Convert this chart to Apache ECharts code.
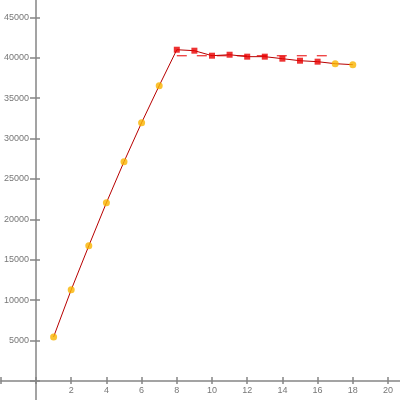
<!DOCTYPE html>
<html>
<head>
<meta charset="utf-8">
<script src="https://cdn.jsdelivr.net/npm/echarts@6/dist/echarts.min.js"></script>
<style>
  html, body { margin: 0; padding: 0; background: #fff; }
  #chart { width: 400px; height: 400px; }
</style>
</head>
<body>
<div id="chart"></div>
<script>
// x positions and values
const xs = [1, 2, 3, 4, 5, 6, 7, 8, 9, 10, 11, 12, 13, 14, 15, 16, 17, 18];
const values = [5460, 11280, 16730, 22060, 27140, 31970, 36550, 41000, 40880,
  40260, 40380, 40140, 40140, 39890, 39640, 39520, 39270, 39150];
// points drawn as red squares (the rest are yellow dots)
const redFrom = 8;
const redTo = 16;
// dashed level line
const levelValue = 40250;
const levelFrom = 8;
const levelTo = 17;

const lineColor = "#b80000";
const dotColor = "#f9b400";
const squareColor = "#e80000";
const axisColor = "#858585";
const labelColor = "#777";

const allPoints = xs.map((x, i) => [x, values[i]]);
const dots = allPoints.filter(p => p[0] < redFrom || p[0] > redTo);
const squares = allPoints.filter(p => p[0] >= redFrom && p[0] <= redTo);

const tickStyle = { color: axisColor, width: 1.5 };
const labelFont = { color: labelColor, fontSize: 9, fontFamily: "Liberation Sans" };

// grid 0: data, labels and y ticks (its left/bottom edges sit on x=0 / y=0)
// grid 1: the full crossing axis lines and the x ticks, running past the origin
const option = {
  animation: false,
  backgroundColor: "#fff",
  grid: [
    { left: 36, right: 12, top: -23, bottom: 19, outerBoundsMode: "none" },
    { left: 0.8, right: -23.2, top: -23, bottom: -21.4, outerBoundsMode: "none" },
  ],
  xAxis: [
    {
      gridIndex: 0, type: "value", min: 0, max: 20, interval: 2, position: "bottom",
      splitLine: { show: false },
      axisLine: { show: false },
      axisTick: { show: false },
      axisLabel: Object.assign({}, labelFont, {
        margin: 5,
        formatter: function (v) { return v > 0 ? String(v) : ""; },
      }),
    },
    {
      gridIndex: 1, type: "value", min: -2, max: 22, interval: 2, position: "bottom",
      splitLine: { show: false },
      axisLine: { onZero: true, onZeroAxisIndex: 2, lineStyle: { color: axisColor, width: 1.5 } },
      axisTick: { show: true, length: 3, lineStyle: tickStyle },
      axisLabel: { show: false },
    },
    {
      gridIndex: 1, type: "value", min: -2, max: 22, interval: 2, position: "bottom",
      splitLine: { show: false },
      axisLine: { show: false, onZero: true, onZeroAxisIndex: 2 },
      axisTick: { show: true, inside: true, length: 4, lineStyle: tickStyle },
      axisLabel: { show: false },
    },
  ],
  yAxis: [
    {
      gridIndex: 0, type: "value", min: 0, max: 50000, interval: 5000, position: "left",
      splitLine: { show: false },
      axisLine: { show: false },
      axisTick: { show: true, length: 6, lineStyle: tickStyle },
      axisLabel: Object.assign({}, labelFont, {
        margin: 7,
        formatter: function (v) { return (v > 0 && v <= 45000) ? String(v) : ""; },
      }),
    },
    {
      gridIndex: 0, type: "value", min: 0, max: 50000, interval: 5000, position: "left",
      splitLine: { show: false },
      axisLine: { show: false },
      axisTick: { show: true, inside: true, length: 4, lineStyle: tickStyle },
      axisLabel: { show: false },
    },
    {
      gridIndex: 1, type: "value", min: -5000, max: 50000, interval: 5000, position: "left",
      splitLine: { show: false },
      axisLine: { onZero: true, onZeroAxisIndex: 1, lineStyle: { color: axisColor, width: 1.5 } },
      axisTick: { show: false },
      axisLabel: { show: false },
    },
  ],
  series: [
    {
      type: "line",
      xAxisIndex: 0, yAxisIndex: 0,
      data: [[levelFrom, levelValue], [levelTo, levelValue]],
      symbol: "none",
      lineStyle: { color: squareColor, width: 1, type: [10, 10] },
      z: 1,
    },
    {
      type: "line",
      xAxisIndex: 0, yAxisIndex: 0,
      data: allPoints,
      symbol: "none",
      lineStyle: { color: lineColor, width: 1 },
      z: 2,
    },
    {
      type: "scatter",
      xAxisIndex: 0, yAxisIndex: 0,
      data: dots,
      symbol: "circle",
      symbolSize: 7,
      itemStyle: { color: dotColor },
      z: 3,
    },
    {
      type: "scatter",
      xAxisIndex: 0, yAxisIndex: 0,
      data: squares,
      symbol: "rect",
      symbolSize: 6,
      itemStyle: { color: squareColor },
      z: 3,
    },
  ],
};

const chart = echarts.init(document.getElementById("chart"));
chart.setOption(option);
</script>
</body>
</html>
